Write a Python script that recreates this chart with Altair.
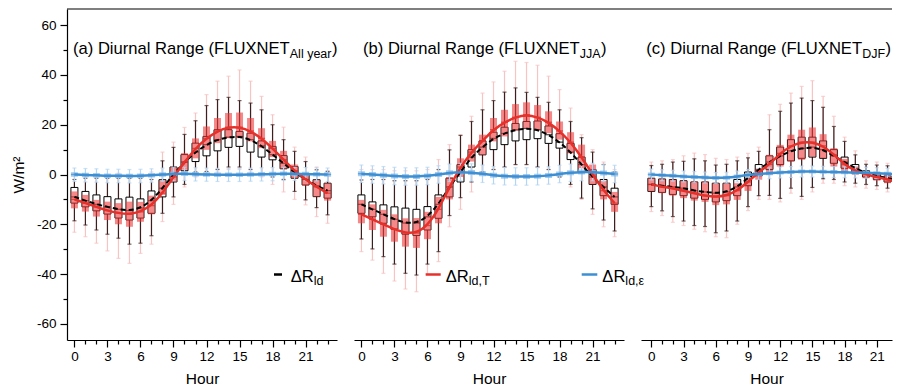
import altair as alt
import pandas as pd

HOURS = list(range(24))

# ---------------- Panel (a) All year ----------------
a_ld_med = [-9, -10.5, -12, -13, -14, -14.5, -13.5, -10.5, -5.5, 0, 5, 9, 12, 14, 15, 15.3, 14, 11.5, 8, 4.5, 1, -2, -4.5, -6.5]
a_ld_q1 = [-11.5, -13, -14.6, -15.9, -17.5, -18.3, -17.5, -15.6, -9, -3, 1.5, 5.2, 7.5, 9.5, 10.9, 11.3, 9, 7, 5.9, 2.3, -1.5, -4.2, -8.9, -9.5]
a_ld_q3 = [-5.2, -6.8, -8.2, -8.9, -9.8, -9.1, -9.8, -6.6, -2.1, 3, 8, 12.6, 15.3, 18, 18, 17.3, 16.6, 13.5, 11.3, 7.6, 3.2, -0.1, -2.1, -3.5]
a_ld_lo = [-18.6, -20.3, -22.3, -24, -25.6, -28, -27.6, -24.6, -15.6, -9, -4, 1, 1.2, 2, 3, 3, 2, 0, -1, -2, -6.8, -10.2, -13.3, -16.2]
a_ld_hi = [-2, -1.5, -1.5, -1.5, -1.5, -1.5, -1.5, -2, 5.5, 10.9, 16.1, 21.6, 27.7, 30.1, 31, 29.7, 28.7, 26, 20, 14, 9.3, 5.2, 1.9, 1.3]

a_T_med = [-10, -11.5, -13, -14.5, -15.5, -16, -15, -12.5, -7.5, -1, 5, 10.5, 14.5, 17.5, 19, 19, 17.5, 14.5, 10.5, 6, 1.5, -2, -5, -7.5]
a_T_q1 = [-13.6, -14.9, -16.9, -18.3, -20, -21, -19, -16, -8.2, -3, 1.9, 6.5, 9.9, 12.6, 14.6, 14.6, 13.3, 10.6, 7, 2.3, -1.5, -4.5, -8.9, -10.5]
a_T_q3 = [-6.8, -8.2, -10.2, -10.9, -11.5, -10.9, -11, -8.5, -2.5, 3, 8.6, 14.5, 19.3, 22.7, 24.7, 24.9, 22.7, 18.6, 13.5, 9.5, 4, 0, -2.1, -3.5]
a_T_lo = [-23.2, -25, -27.6, -30.7, -33.7, -35.7, -31.7, -28, -18.9, -12, -5, -1, 0, 1, 2, 2, 1, -1, -4, -7, -10, -12.2, -16.9, -19.6]
a_T_hi = [0.5, 0, 0, 0, 0.5, 0, 0, 1, 9, 13, 18.9, 24.7, 32.1, 37.5, 39.5, 42, 37.5, 31.4, 24, 19, 11, 7, 3, 1]

a_e_med = [0, -0.2, -0.3, -0.5, -0.5, -0.6, -0.5, -0.3, 0, 0.3, 0.3, 0.1, 0, -0.1, -0.1, -0.1, 0, 0.1, 0.2, 0.3, 0.3, 0.2, 0.1, 0]
a_e_q1 = [-0.9, -1.1, -1.2, -1.4, -1.4, -1.5, -1.4, -1.2, -0.9, -0.6, -0.6, -0.8, -0.9, -1, -1, -1, -0.9, -0.8, -0.7, -0.6, -0.6, -0.7, -0.8, -0.9]
a_e_q3 = [0.9, 0.7, 0.6, 0.4, 0.4, 0.3, 0.4, 0.6, 0.9, 1.2, 1.2, 1, 0.9, 0.8, 0.8, 0.8, 0.9, 1, 1.1, 1.2, 1.2, 1.1, 1, 0.9]
a_e_lo = [-2.8, -3, -3.1, -3.3, -3.3, -3.4, -3.3, -3.1, -2.8, -2.5, -2.4, -2.6, -2.7, -2.8, -2.8, -2.8, -2.7, -2.6, -2.5, -2.4, -2.4, -2.5, -2.6, -2.8]
a_e_hi = [2.6, 2.4, 2.3, 2.1, 2.1, 2, 2.1, 2.3, 2.6, 2.9, 2.9, 2.7, 2.6, 2.5, 2.5, 2.5, 2.6, 2.7, 2.8, 2.9, 2.9, 2.8, 2.7, 2.6]

# ---------------- Panel (b) JJA ----------------
b_ld_med = [-12, -14, -16, -18, -19.5, -19.5, -17, -12, -5, 1, 7, 11, 14.5, 16.5, 18, 18.5, 18, 16, 13, 9, 4, -1, -5, -9]
b_ld_q1 = [-15.6, -17, -19.6, -22, -24, -24.5, -22.3, -17.6, -9, -3, 3, 7.9, 10, 12, 13.5, 14, 14.4, 12.5, 10.6, 6, 1, -4, -8.5, -12]
b_ld_q3 = [-8.2, -11, -12.2, -13, -13.5, -14, -12.9, -8.2, -1.5, 4, 10, 13.5, 17, 19, 20.5, 21.3, 21.5, 19.5, 16.4, 12.5, 7, 2, -2, -5.5]
b_ld_lo = [-25.9, -29.9, -33, -36, -39.7, -40.4, -36, -31, -16.5, -9.3, -3, 1, 2, 3, 4, 4, 3, 2, -1, -4, -9.5, -13.8, -18.3, -22.7]
b_ld_hi = [-2.2, -2, -2, -2.5, -2.5, -2.5, -2, 2, 9.9, 15.7, 21.3, 26, 29.7, 33.1, 34.8, 33, 31, 29, 26, 21.3, 14.8, 9, 4, 1]

b_T_med = [-16, -18, -20, -22, -23.5, -23.5, -20.5, -14, -5, 3, 9, 13.5, 18, 21, 23, 24, 23, 21, 17.5, 13, 7, 0, -6.5, -11.5]
b_T_q1 = [-19.6, -22.3, -25, -27, -29, -29.5, -26, -19.6, -10, -1, 5.2, 7.9, 13.3, 15.3, 17.6, 18.6, 17.9, 16.6, 14, 8.5, 2.5, -4, -10, -15]
b_T_q3 = [-10.2, -12, -14.2, -16, -17.6, -17.5, -15, -9, -1, 6.5, 12, 16, 22.7, 26, 28.3, 29, 27.9, 25.4, 21.3, 17, 12, 4, -2.5, -7]
b_T_lo = [-31, -34.4, -39.7, -42.8, -46, -47.1, -40, -35, -21, -14, -7, 0, 2, 3, 4, 4, 3, 2, -1, -5, -10, -16, -21, -25]
b_T_hi = [2, 2, 2, 1.5, 1.5, 1.5, 2, 6, 12, 16, 23.4, 32.7, 37.2, 41.5, 45.5, 45, 43.9, 39.5, 34.1, 26.7, 16, 10, 5, 2]

b_e_med = [0.3, 0, -0.3, -0.6, -0.8, -0.8, -0.6, 0, 0.7, 1, 0.8, 0.3, -0.3, -0.7, -0.8, -0.8, -0.7, -0.4, 0.2, 0.7, 1, 1, 0.6, 0.2]
b_e_q1 = [-0.7, -1, -1.3, -1.6, -1.8, -1.8, -1.6, -1, -0.3, 0, -0.2, -0.7, -1.3, -1.7, -1.8, -1.8, -1.7, -1.4, -0.8, -0.3, 0, 0, -0.4, -0.8]
b_e_q3 = [1.3, 1, 0.7, 0.4, 0.2, 0.2, 0.4, 1, 1.7, 2, 1.8, 1.3, 0.7, 0.3, 0.2, 0.2, 0.3, 0.6, 1.2, 1.7, 2, 2, 1.6, 1.2]
b_e_lo = [-3.2, -3.5, -3.8, -4.1, -4.3, -4.3, -4.1, -3.5, -2.8, -2.5, -2.7, -3.2, -3.8, -4.2, -4.3, -4.3, -4.2, -3.9, -3.3, -2.8, -2.5, -2.5, -2.9, -3.3]
b_e_hi = [3.8, 3.5, 3.2, 2.9, 2.7, 2.7, 2.9, 3.5, 4.2, 4.5, 4.3, 3.8, 3.2, 2.8, 2.7, 2.7, 2.8, 3.1, 3.7, 4.2, 4.5, 4.5, 4.1, 3.7]

# ---------------- Panel (c) DJF ----------------
c_ld_med = [-4, -4.5, -5, -5.5, -6.5, -7, -7.5, -7, -5, -1.5, 2, 5, 7.5, 9.5, 10.5, 11, 10, 7.5, 5, 2.5, 0.5, -0.5, -1.5, -2.5]
c_ld_q1 = [-6.8, -7.2, -8, -8.5, -9.5, -10, -11, -10.5, -8.5, -4.5, -0.5, 2, 4, 5.5, 6.5, 7, 6.5, 4.5, 2.5, 0.5, -1, -2, -3, -4]
c_ld_q3 = [-1.5, -1.8, -2, -2.5, -3, -3, -3.5, -3.5, -2, 1, 4, 7.5, 11, 14, 15, 15, 13.5, 10, 7, 4, 1.5, 0.5, -0.5, -1]
c_ld_lo = [-12.9, -14.6, -16.9, -18.7, -20.5, -20.9, -23.4, -22.7, -18.7, -12.9, -8.5, -8.4, -9.6, -5.5, -8.8, -5.2, -1.7, -2, -3, -3.5, -4, -4.5, -5.5, -7]
c_ld_hi = [3.6, 4.1, 5, 5.3, 6.3, 5.5, 3.8, 4.1, 5.5, 6.7, 9.3, 18, 25.4, 28.7, 30.7, 29.7, 27, 19.3, 13.3, 7.9, 4.1, 3.8, 3.5, 3]

c_T_med = [-4, -5, -5.5, -6.5, -7.5, -8.5, -9, -8.5, -6.5, -3, 1, 4, 8.5, 11.5, 13, 13, 11.5, 8, 4, 1.5, 0, -1, -2, -3]
c_T_q1 = [-6.8, -7.5, -8.5, -9.5, -10.5, -11, -12.3, -12, -10.2, -6.6, -2.1, -0.1, 3.2, 5.2, 5.9, 7.2, 6.6, 3.2, 1.2, -0.1, -1.5, -2.5, -3.5, -5]
c_T_q3 = [-1.5, -1.8, -2, -2.5, -2.8, -2.8, -3.5, -3.5, -3.5, -1.5, 2.3, 7.9, 11.9, 16, 18, 18.9, 16.2, 10.6, 6.3, 3.2, 1.2, 0.5, 0, -1]
c_T_lo = [-14.9, -16.5, -19.2, -20.5, -22, -23, -25, -25.4, -20, -14.5, -10, -10, -11, -7.5, -10, -7, -3.5, -3.5, -4.5, -5, -5.5, -6, -7, -8.5]
c_T_hi = [5, 5.5, 6, 7.5, 8.6, 8, 6.5, 6, 7, 8.5, 11, 24, 28.2, 32.7, 35.4, 37.7, 31.4, 23.4, 15, 9.5, 5.5, 5, 4.5, 4]

c_e_med = [0, -0.3, -0.5, -0.8, -1, -1.2, -1.4, -1.3, -0.8, -0.2, 0.2, 0.5, 0.8, 1, 1.2, 1.2, 1.1, 1, 0.9, 0.8, 0.7, 0.5, 0.3, 0]
c_e_q1 = [-0.8, -1.1, -1.3, -1.6, -1.8, -2, -2.2, -2.1, -1.6, -1, -0.6, -0.3, 0, 0.2, 0.4, 0.4, 0.3, 0.2, 0.1, 0, -0.1, -0.3, -0.5, -0.8]
c_e_q3 = [0.8, 0.5, 0.3, 0, -0.2, -0.4, -0.6, -0.5, 0, 0.6, 1, 1.3, 1.6, 1.8, 2, 2, 1.9, 1.8, 1.7, 1.6, 1.5, 1.3, 1.1, 0.8]
c_e_lo = [-2.2, -2.5, -2.7, -3, -3.2, -3.4, -3.6, -3.5, -3, -2.4, -2, -1.7, -1.4, -1.2, -1, -1, -1.1, -1.2, -1.3, -1.4, -1.5, -1.7, -1.9, -2.2]
c_e_hi = [2.2, 1.9, 1.7, 1.4, 1.2, 1, 0.8, 0.9, 1.4, 2, 2.4, 2.7, 3, 3.2, 3.4, 3.4, 3.3, 3.2, 3.1, 3, 2.9, 2.7, 2.5, 2.2]

# ---------------- styling ----------------
FONT = "Liberation Sans"
W, WC, H, SP = 270, 251, 331, 17
YDOM = [-66.5, 66.5]
XDOM = [-0.22, 23.4]
XDOM_C = [-0.5, 21.95]
TICKS_C = list(range(22))

BLACK_WH = "#3a2020"
PINK_WH = "#f7c3c3"
RED = "#e8302a"
RED_BOX = "#ee3b3b"
BLUE = "#3d8fd3"
BLUE_WH = "#b4d6f2"
BLUE_BOX = "#7fb6e8"

# Arial / Liberation Sans advance widths (per 1000 em)
AW = {'(': 333, ')': 333, ' ': 278, 'a': 556, 'b': 556, 'c': 500, 'D': 722, 'i': 222, 'u': 556,
      'r': 333, 'n': 556, 'l': 222, 'R': 722, 'g': 556, 'e': 556, 'F': 611, 'L': 556, 'U': 722,
      'X': 667, 'N': 722, 'E': 667, 'T': 611, 'A': 667, 'y': 500, 'J': 500, 'd': 556, ',': 278,
      '\u0394': 668}


def tw(s, fs):
    return sum(AW.get(ch, 556) for ch in s) * fs / 1000.0


def frame(med, q1, q3, lo, hi):
    return pd.DataFrame({"hour": HOURS, "med": med, "q1": q1, "q3": q3, "lo": lo, "hi": hi})


def make_xaxis(values):
    return alt.Axis(
        values=values,
        labelExpr="datum.value % 3 === 0 ? datum.label : ''",
        tickSize={"condition": {"test": "datum.value % 3 === 0", "value": 7}, "value": 4},
        title="Hour", grid=False, labelFlush=False, labelOverlap=False,
        domainColor="black", tickColor="black", labelColor="black", titleColor="black",
        labelFont=FONT, titleFont=FONT, labelFontSize=13.5, titleFontSize=15.5,
        titleFontWeight="normal", labelPadding=2, titlePadding=9, domainWidth=1.2, tickWidth=1.2,
    )


yaxis = alt.Axis(
    values=list(range(-60, 61, 10)),
    labelExpr="datum.value % 20 === 0 ? '' + datum.value : ''",
    tickSize={"condition": {"test": "datum.value % 20 === 0", "value": 7}, "value": 4},
    title="W/m\u00b2", grid=False, labelFlush=False, labelOverlap=False,
    domainColor="black", tickColor="black", labelColor="black", titleColor="black",
    labelFont=FONT, titleFont=FONT, labelFontSize=13.5, titleFontSize=15.5,
    titleFontWeight="normal", labelPadding=4, titlePadding=10, domainWidth=1.2, tickWidth=1.2,
)

YS = alt.Scale(domain=YDOM, nice=False, zero=False)


def text_mark(s, px, py, fs, color="black"):
    return alt.Chart(pd.DataFrame({"t": [s]})).mark_text(
        align="left", baseline="alphabetic", font=FONT, fontSize=fs, color=color
    ).encode(x=alt.value(px), y=alt.value(py), text="t:N")


def hline(x1, x2, yy, color, sw):
    return alt.Chart(pd.DataFrame({"t": [0]})).mark_rule(color=color, strokeWidth=sw).encode(
        x=alt.value(x1), x2=alt.value(x2), y=alt.value(yy))


def panel(letter, sub, ld, T, e, show_y, title_x, legend, rule_w, width, xdom, xvals, clip):
    xs = alt.Scale(domain=xdom, nice=False, zero=False)
    xa = make_xaxis(xvals)

    def X():
        return alt.X("hour:Q", scale=xs, axis=xa)

    def Y(field):
        return alt.Y(field, scale=YS, axis=yaxis if show_y else None)

    def boxset(df, wh_color, box_kw, med_color):
        base = alt.Chart(df)
        wh = base.mark_rule(color=wh_color, strokeWidth=1.2, clip=clip).encode(
            x=X(), y=Y("lo:Q"), y2="hi:Q")
        caps = base.transform_fold(["lo", "hi"], as_=["k", "v"]).mark_tick(
            orient="horizontal", size=4, thickness=1.2, color=wh_color, clip=clip
        ).encode(x=X(), y=Y("v:Q"))
        box = base.mark_bar(size=7, clip=clip, **box_kw).encode(x=X(), y=Y("q1:Q"), y2="q3:Q")
        med = base.mark_tick(orient="horizontal", size=7, thickness=1.3, color=med_color,
                             clip=clip).encode(x=X(), y=Y("med:Q"))
        return wh, caps, box, med

    dl, dT, de = frame(*ld), frame(*T), frame(*e)
    T_wh, T_caps, T_box, T_med = boxset(dT, PINK_WH, dict(fill=RED_BOX, opacity=0.6), "#d42a24")
    L_wh, L_caps, L_box, L_med = boxset(dl, BLACK_WH, dict(fill="white", stroke="black", strokeWidth=1), "black")
    E_wh, E_caps, E_box, E_med = boxset(de, BLUE_WH, dict(fill=BLUE_BOX, opacity=0.7), BLUE)

    line_ld = alt.Chart(dl).mark_line(color="black", strokeWidth=2, strokeDash=[5, 3],
                                      interpolate="basis", clip=clip).encode(x=X(), y=Y("med:Q"))
    line_T = alt.Chart(dT).mark_line(color=RED, strokeWidth=2.5, interpolate="basis",
                                     clip=clip).encode(x=X(), y=Y("med:Q"))
    line_e = alt.Chart(de).mark_line(color=BLUE, strokeWidth=2.5, interpolate="basis",
                                     clip=clip).encode(x=X(), y=Y("med:Q"))

    main = "(" + letter + ") Diurnal Range (FLUXNET"
    fs_main, fs_sub = 16.6, 12.5
    x0 = title_x
    x1 = x0 + tw(main, fs_main)
    x2 = x1 + tw(sub, fs_sub) + 0.5
    texts = [text_mark(main, x0, 44.5, fs_main),
             text_mark(sub, x1, 48.5, fs_sub),
             text_mark(")", x2, 44.5, fs_main)]

    leg = []
    for (lx1, lx2, col, tx, subl) in legend:
        leg.append(hline(lx1, lx2, 265.5, col, 2.5))
        leg.append(text_mark("\u0394R", tx, 273, 16.6))
        leg.append(text_mark(subl, tx + tw("\u0394R", 16.6), 275.5, 12.5))

    top = hline(0, rule_w, 0, "black", 1.2)

    layers = [T_wh, T_caps, L_wh, L_caps, L_box, L_med, T_box, T_med,
              E_wh, E_caps, E_box, E_med, line_ld, line_T, line_e, top] + texts + leg
    return alt.layer(*layers).properties(width=width, height=H)


pa = panel("a", "All year",
           [a_ld_med, a_ld_q1, a_ld_q3, a_ld_lo, a_ld_hi],
           [a_T_med, a_T_q1, a_T_q3, a_T_lo, a_T_hi],
           [a_e_med, a_e_q1, a_e_q3, a_e_lo, a_e_hi],
           True, 6, [(207, 215, "black", 223.7, "ld")], W + SP, W, XDOM, HOURS, False)
pb = panel("b", "JJA",
           [b_ld_med, b_ld_q1, b_ld_q3, b_ld_lo, b_ld_hi],
           [b_T_med, b_T_q1, b_T_q3, b_T_lo, b_T_hi],
           [b_e_med, b_e_q1, b_e_q3, b_e_lo, b_e_hi],
           False, 9, [(71.7, 86.7, RED, 91.7, "ld,T"),
                      (227.7, 243.3, BLUE, 248.3, "ld,\u03b5")], W + SP, W, XDOM, HOURS, False)
pc = panel("c", "DJF",
           [c_ld_med, c_ld_q1, c_ld_q3, c_ld_lo, c_ld_hi],
           [c_T_med, c_T_q1, c_T_q3, c_T_lo, c_T_hi],
           [c_e_med, c_e_q1, c_e_q3, c_e_lo, c_e_hi],
           False, 5.3, [], WC, WC, XDOM_C, TICKS_C, True)

chart = alt.hconcat(pa, pb, pc, spacing=SP, bounds="flush").properties(
    padding={"left": 3, "top": 0, "right": 0, "bottom": 0}
).configure_view(stroke=None)

chart.save("out.html", embed_options={"renderer": "svg", "actions": False})
